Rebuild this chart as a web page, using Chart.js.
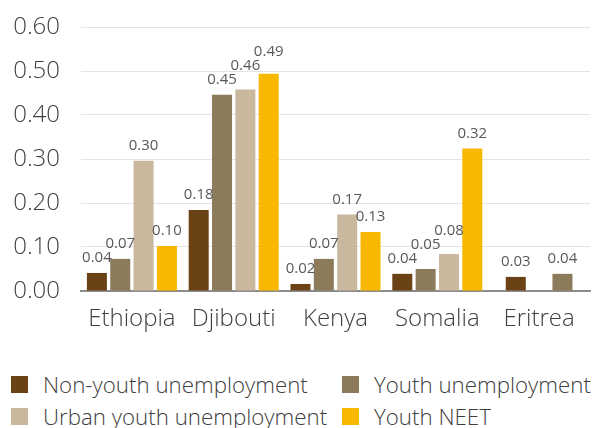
<!DOCTYPE html>
<html>
<head>
<meta charset="utf-8">
<script src="https://cdn.jsdelivr.net/npm/chart.js"></script>
<style>
  html, body { margin: 0; padding: 0; background: #fff; }
  body { width: 592px; height: 428px; position: relative; overflow: hidden; font-family: "Open Sans", sans-serif; font-weight: 300; }
  #wrap { position: absolute; left: 0; top: 0; width: 592px; height: 340px; }
  #legend { position: absolute; left: 0; top: 370px; width: 592px; }
  .item { position: absolute; display: flex; align-items: center; height: 32px; font-size: 22.3px; color: #404040; white-space: nowrap; }
  .item span.box { display: inline-block; width: 17px; height: 17px; margin-right: 15px; }
</style>
</head>
<body>
<div id="wrap"><canvas id="chart"></canvas></div>
<div id="legend"></div>
<script>
const countries = ["Ethiopia", "Djibouti", "Kenya", "Somalia", "Eritrea"];
const seriesNames = ["Non-youth unemployment", "Youth unemployment", "Urban youth unemployment", "Youth NEET"];
const nonYouth = [0.041, 0.184, 0.016, 0.039, 0.032];
const youth = [0.073, 0.446, 0.073, 0.050, 0.039];
const urbanYouth = [0.296, 0.458, 0.174, 0.084, null];
const youthNeet = [0.102, 0.494, 0.134, 0.324, null];
const yTicks = [0, 0.1, 0.2, 0.3, 0.4, 0.5, 0.6];

const colors = ["#6b4216", "#8b7b5a", "#c9b79e", "#f9b800"];
const values = [nonYouth, youth, urbanYouth, youthNeet];

// value labels above bars, nudged up when they collide inside a group
const valueLabels = {
  id: "valueLabels",
  afterDatasetsDraw(chart) {
    const ctx = chart.ctx;
    ctx.save();
    ctx.font = '15px "Open Sans"';
    ctx.fillStyle = "#595959";
    ctx.textAlign = "center";
    ctx.textBaseline = "middle";
    const h = 14;
    countries.forEach((c, i) => {
      const placed = [];
      chart.data.datasets.forEach((ds, d) => {
        const v = ds.data[i];
        if (v === null || v === undefined) return;
        const el = chart.getDatasetMeta(d).data[i];
        const text = v.toFixed(2);
        const w = ctx.measureText(text).width;
        let y = el.y - 15;
        let moved = true;
        while (moved) {
          moved = false;
          for (const p of placed) {
            const xOverlap = Math.abs(p.x - el.x) < (p.w + w) / 2;
            if (xOverlap && Math.abs(p.y - y) < h) {
              y = p.y - h;
              moved = true;
            }
          }
        }
        placed.push({ x: el.x, y: y, w: w });
        ctx.fillText(text, el.x, y);
      });
    });
    ctx.restore();
  }
};

const chart = new Chart(document.getElementById("chart"), {
  type: "bar",
  data: {
    labels: countries,
    datasets: seriesNames.map((name, k) => ({
      label: name,
      data: values[k],
      backgroundColor: colors[k],
      categoryPercentage: 0.917,
      barPercentage: 0.86,
      maxBarThickness: 20,
      skipNull: true,
    })),
  },
  options: {
    responsive: true,
    maintainAspectRatio: false,
    animation: false,
    layout: { padding: { top: 27, right: 2, left: 0, bottom: 0 } },
    plugins: {
      legend: { display: false },
      tooltip: { enabled: false },
    },
    scales: {
      x: {
        grid: { display: false },
        border: { color: "#8c8c8c", width: 2 },
        ticks: { color: "#404040", font: { family: "Open Sans", size: 24, weight: 300 }, padding: 6 },
        afterFit(scale) { scale.height = 49; },
      },
      y: {
        min: 0,
        max: 0.6,
        border: { display: false },
        grid: { color: "#e4e4e4", drawTicks: false },
        afterBuildTicks(scale) { scale.ticks = yTicks.map((v) => ({ value: v })); },
        ticks: {
          color: "#404040",
          font: { family: "Open Sans", size: 24, weight: 300 },
          padding: 21,
          callback: (v) => Number(v).toFixed(2),
        },
        afterFit(scale) {
          scale.width = 81;
          scale.paddingTop = 15;
          scale.paddingBottom = 15;
        },
      },
    },
  },
  plugins: [valueLabels],
});

// legend laid out in two fixed columns like the original
const legend = document.getElementById("legend");
const cols = [11, 342];
seriesNames.forEach((name, k) => {
  const item = document.createElement("div");
  item.className = "item";
  item.style.left = cols[k % 2] + "px";
  item.style.top = (Math.floor(k / 2) * 32 - 2) + "px";
  item.innerHTML = '<span class="box" style="background:' + colors[k] + '"></span>' + name;
  legend.appendChild(item);
});
</script>
</body>
</html>
